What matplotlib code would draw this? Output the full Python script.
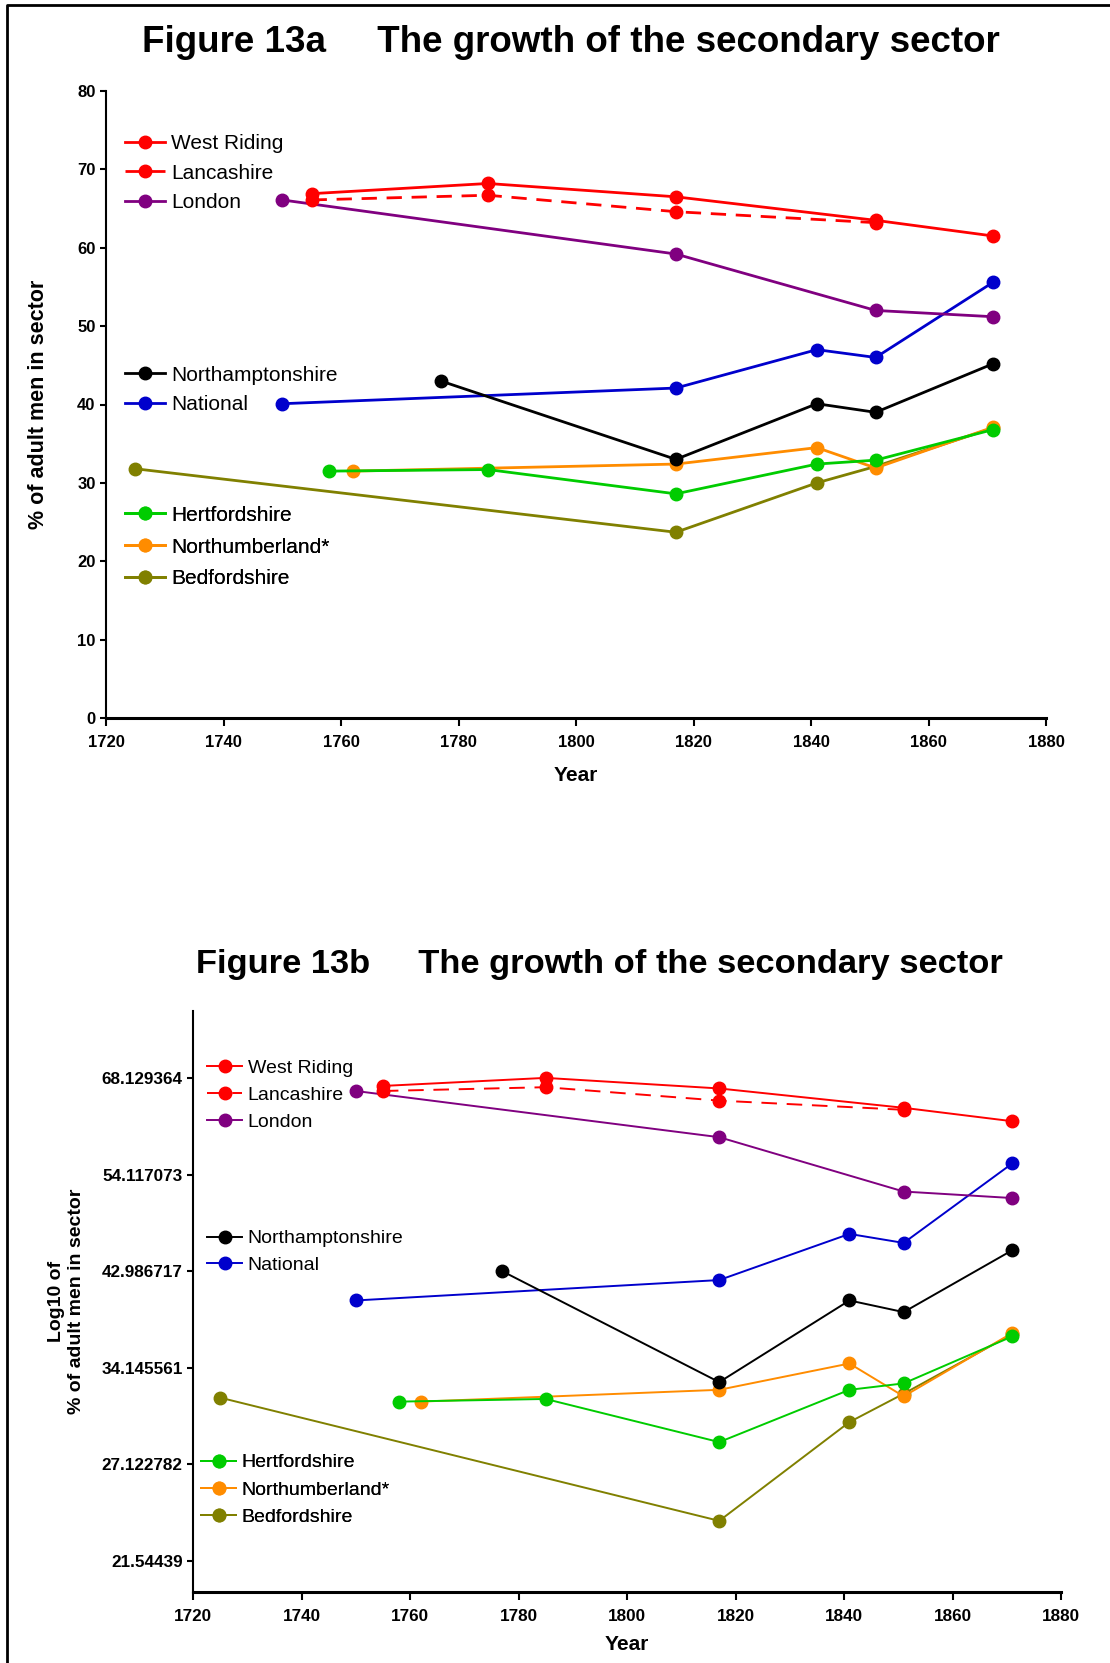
import matplotlib
matplotlib.use("Agg")
import matplotlib.pyplot as plt
from matplotlib.lines import Line2D

plt.rcParams['font.family'] = ['Liberation Sans', 'DejaVu Sans']

W, H = 1110, 1663

# share of adult men in the secondary sector (%), by census/sample year
west_riding_years = [1755, 1785, 1817, 1851, 1871]
west_riding = [66.9, 68.2, 66.5, 63.5, 61.5]
lancashire_years = [1755, 1785, 1817, 1851]
lancashire = [66.1, 66.7, 64.6, 63.2]
london_years = [1750, 1817, 1851, 1871]
london = [66.1, 59.2, 52.0, 51.2]
northants_years = [1777, 1817, 1841, 1851, 1871]
northants = [43.0, 33.0, 40.1, 39.0, 45.2]
national_years = [1750, 1817, 1841, 1851, 1871]
national = [40.1, 42.1, 47.0, 46.0, 55.6]
herts_years = [1758, 1785, 1817, 1841, 1851, 1871]
herts = [31.5, 31.7, 28.6, 32.4, 32.9, 36.8]
northumberland_years = [1762, 1817, 1841, 1851, 1871]
northumberland = [31.5, 32.4, 34.5, 31.9, 37.1]
beds_years = [1725, 1817, 1841, 1851, 1871]
beds = [31.8, 23.7, 30.0, 32.1, 37.0]

year_ticks = [1720, 1740, 1760, 1780, 1800, 1820, 1840, 1860, 1880]
lin_ticks = [0, 10, 20, 30, 40, 50, 60, 70, 80]
log_ticks = [21.54439, 27.122782, 34.145561, 42.986717, 54.117073, 68.129364]
log_tick_labels = ["21.54439", "27.122782", "34.145561", "42.986717", "54.117073", "68.129364"]

RED = "#ff0000"
PURPLE = "#800080"
BLUE = "#0000cc"
BLACK = "#000000"
GREEN = "#00cc00"
ORANGE = "#ff8c00"
OLIVE = "#808000"


def fx(px):
    return px / W


def fy(py):
    return 1 - py / H


def draw_series(ax, lw, dash):
    ms = 9
    s = {}
    s['beds'], = ax.plot(beds_years, beds, color=OLIVE, marker='o', ms=ms, lw=lw)
    s['north'], = ax.plot(northumberland_years, northumberland, color=ORANGE, marker='o', ms=ms, lw=lw)
    s['herts'], = ax.plot(herts_years, herts, color=GREEN, marker='o', ms=ms, lw=lw)
    s['nat'], = ax.plot(national_years, national, color=BLUE, marker='o', ms=ms, lw=lw)
    s['nthn'], = ax.plot(northants_years, northants, color=BLACK, marker='o', ms=ms, lw=lw)
    s['lon'], = ax.plot(london_years, london, color=PURPLE, marker='o', ms=ms, lw=lw)
    s['lan'], = ax.plot(lancashire_years, lancashire, color=RED, marker='o', ms=ms, lw=lw,
                        ls=(0, dash))
    s['wr'], = ax.plot(west_riding_years, west_riding, color=RED, marker='o', ms=ms, lw=lw)
    return s


def add_legends(ax, s, fs, hl, groups):
    # groups: (keys, labels, left px, centre px, spacing)
    for keys, labels, left, centre, sp in groups:
        leg = ax.legend([s[k] for k in keys], labels, loc='center left',
                        bbox_to_anchor=(fx(left), fy(centre)), bbox_transform=ax.figure.transFigure,
                        frameon=False, fontsize=fs, handlelength=hl, handletextpad=0.3,
                        labelspacing=sp, borderpad=0, borderaxespad=0, numpoints=1)
        ax.add_artist(leg)


def style_axes(ax, tick_fs):
    ax.spines['top'].set_visible(False)
    ax.spines['right'].set_visible(False)
    ax.spines['left'].set_linewidth(1.5)
    ax.spines['bottom'].set_linewidth(2.2)
    ax.tick_params(axis='both', which='major', direction='out', width=1.5, labelsize=tick_fs)
    ax.tick_params(axis='y', length=4)
    ax.tick_params(axis='x', length=6, pad=6)
    ax.tick_params(which='minor', left=False, bottom=False)
    for lab in ax.get_xticklabels() + ax.get_yticklabels():
        lab.set_fontweight('bold')


fig = plt.figure(figsize=(W / 100, H / 100), dpi=100)

# Figure 13a: linear scale
ax1 = fig.add_axes([fx(106), fy(718), fx(1046) - fx(106), fy(91) - fy(718)])
s1 = draw_series(ax1, 2.0, (5.5, 3.5))
ax1.set_xlim(1720, 1880)
ax1.set_ylim(0, 80)
ax1.set_xticks(year_ticks)
ax1.set_yticks(lin_ticks)
style_axes(ax1, 12)
ax1.set_xlabel("Year", fontsize=15, fontweight='bold', labelpad=12)
ax1.set_ylabel("% of adult men in sector", fontsize=15.5, fontweight='bold', labelpad=20)
add_legends(ax1, s1, 15, 1.9, [
    (['wr', 'lan', 'lon'], ["West Riding", "Lancashire", "London"], 125, 173, 0.5),
    (['nthn', 'nat'], ["Northamptonshire", "National"], 125, 390, 0.5),
    (['herts', 'north', 'beds'], ["Hertfordshire", "Northumberland*", "Bedfordshire"], 125, 547, 0.62),
])
fig.text(fx(571), fy(42), "Figure 13a     The growth of the secondary sector",
         ha='center', va='center', fontsize=26.5, fontweight='bold')

# Figure 13b: log scale
ax2 = fig.add_axes([fx(193), fy(1592), fx(1061) - fx(193), fy(1011) - fy(1592)])
s2 = draw_series(ax2, 1.4, (8, 5))
ax2.set_yscale('log')
ax2.set_xlim(1720, 1880)
ax2.set_ylim(20, 80)
ax2.set_xticks(year_ticks)
ax2.set_yticks(log_ticks)
ax2.set_yticklabels(log_tick_labels)
ax2.yaxis.set_minor_locator(matplotlib.ticker.NullLocator())
style_axes(ax2, 12.3)
ax2.set_xlabel("Year", fontsize=15, fontweight='bold', labelpad=8)
ax2.set_ylabel("Log10 of\n% of adult men in sector", fontsize=14, fontweight='bold', labelpad=12)
add_legends(ax2, s2, 14, 1.8, [
    (['wr', 'lan', 'lon'], ["West Riding", "Lancashire", "London"], 207, 1095, 0.47),
    (['nthn', 'nat'], ["Northamptonshire", "National"], 207, 1252, 0.47),
    (['herts', 'north', 'beds'], ["Hertfordshire", "Northumberland*", "Bedfordshire"], 201, 1490, 0.5),
])
fig.text(fx(599), fy(964), "Figure 13b     The growth of the secondary sector",
         ha='center', va='center', fontsize=24.8, fontweight='bold')

# page frame: rule along the top and down the left edge only
fig.add_artist(Line2D([fx(7), fx(7), fx(1110)], [fy(1663), fy(5), fy(5)],
                      transform=fig.transFigure, color='black', lw=2))

fig.savefig("out.png", dpi=100)
